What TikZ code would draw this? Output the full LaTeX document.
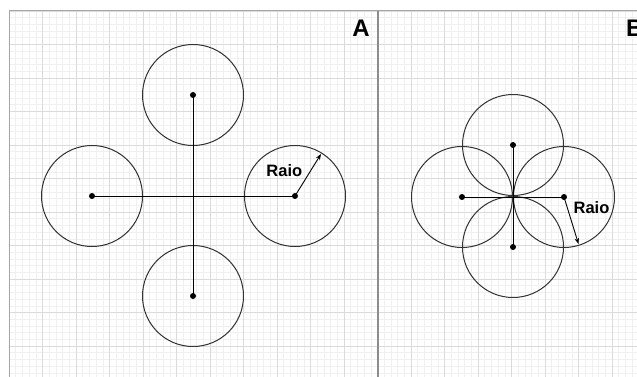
\documentclass[tikz,border=0pt]{standalone}
\usepackage{fontspec}
\setmainfont{Liberation Sans}
\usetikzlibrary{arrows.meta}
\begin{document}
\begin{tikzpicture}[x=1pt,y=-1pt,
  minorgrid/.style={draw=black!6,line width=0.6pt},
  majorgrid/.style={draw=black!14,line width=0.8pt},
  ring/.style={circle,draw=black!80,line width=1pt,minimum size=101pt,inner sep=0pt},
  dotnode/.style={circle,fill=black,minimum size=6pt,inner sep=0pt},
  link/.style={draw=black,line width=1pt},
  raioarrow/.style={draw=black,line width=0.9pt,-{Stealth[length=6pt,width=4.5pt]}},
  lbl/.style={font=\bfseries\fontsize{16.5}{18}\selectfont,inner sep=0pt},
  panel/.style={font=\bfseries\fontsize{24}{28}\selectfont,inner sep=0pt}]
\useasboundingbox (0,0) rectangle (637,377);
\fill[white] (0,0) rectangle (637,377);
% grid
\foreach \i in {0,...,93} \draw[minorgrid] ({9+6.7*\i},11) -- ({9+6.7*\i},377);
\foreach \j in {0,...,54} \draw[minorgrid] (9,{11+6.7*\j}) -- (637,{11+6.7*\j});
\foreach \i in {0,...,18} \draw[majorgrid] ({9+33.5*\i},11) -- ({9+33.5*\i},377);
\foreach \j in {0,...,10} \draw[majorgrid] (9,{11+33.5*\j}) -- (637,{11+33.5*\j});
\draw[black!35,line width=1pt] (9,377) -- (9,11) -- (637,11);
\draw[black!45,line width=1.6pt] (378,11) -- (378,377);
% panel labels
\node[panel] (labA) at (361,28.5) {A};
\node[panel,anchor=west] (labB) at (626,28.5) {B};
% panel A
\node[ring] (cAt) at (193,95) {};
\node[ring] (cAl) at (92,196) {};
\node[ring] (cAr) at (295,196) {};
\node[ring] (cAb) at (193,296) {};
\node[dotnode] (dAt) at (193,95) {};
\node[dotnode] (dAl) at (92,196) {};
\node[dotnode] (dAr) at (295,196) {};
\node[dotnode] (dAb) at (193,296) {};
\draw[link] (dAt.center) -- (dAb.center);
\draw[link] (dAl.center) -- (dAr.center);
\coordinate (tipA) at (321,154);
\draw[raioarrow] (dAr.center) -- (tipA);
\node[lbl] (raioA) at (284.3,170.3) {Raio};
% panel B
\node[ring] (cBt) at (513,145) {};
\node[ring] (cBl) at (462,197) {};
\node[ring] (cBr) at (564,197) {};
\node[ring] (cBb) at (513,247) {};
\node[dotnode] (dBt) at (513,145) {};
\node[dotnode] (dBl) at (462,197) {};
\node[dotnode] (dBr) at (564,197) {};
\node[dotnode] (dBb) at (513,247) {};
\draw[link] (dBt.center) -- (dBb.center);
\draw[link] (dBl.center) -- (dBr.center);
\coordinate (tipB) at (578.5,244);
\draw[raioarrow] (dBr.center) -- (tipB);
\node[lbl] (raioB) at (591.5,207.5) {Raio};
\end{tikzpicture}
\end{document}
